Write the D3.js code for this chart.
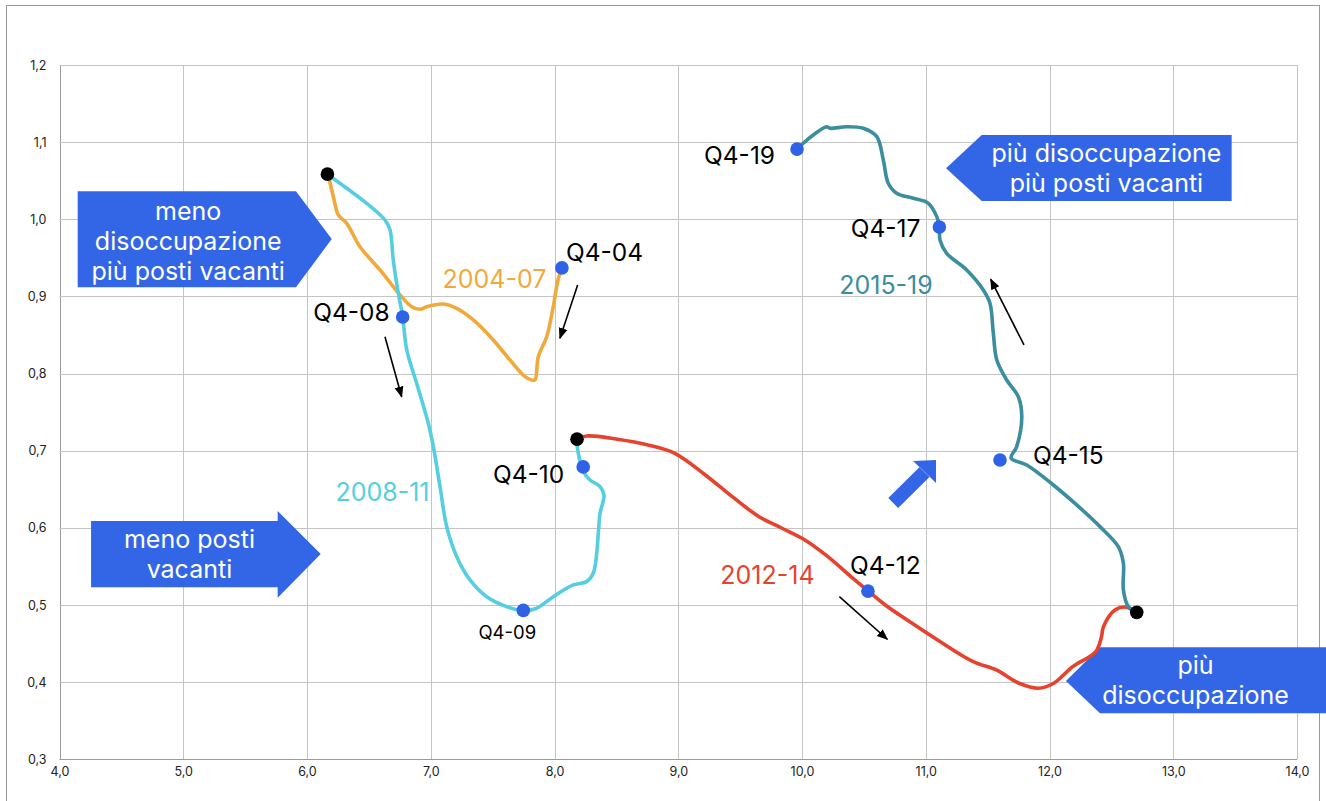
<!DOCTYPE html>
<html><head><meta charset="utf-8">
<script src="https://cdn.jsdelivr.net/npm/d3@7"></script>
<style>
html,body{margin:0;padding:0;background:#fff;}
svg{display:block;font-family:Inter,"Noto Sans",sans-serif;}
</style></head>
<body>
<svg id="chart" width="1326" height="801"></svg>
<script>
// ---------- DATA ----------
const xTicks = [4,5,6,7,8,9,10,11,12,13,14];
const yTicks = [0.3,0.4,0.5,0.6,0.7,0.8,0.9,1.0,1.1,1.2];

const series2004_07 = [
  [8.058,0.9365],[8.028,0.9213],[7.990,0.8867],[7.937,0.8478],[7.869,0.8219],[7.842,0.7917],
  [7.816,0.7917],[7.762,0.796],[7.640,0.8177],[7.505,0.8436],[7.344,0.8695],[7.210,0.8846],
  [7.101,0.8902],[6.967,0.8867],[6.913,0.8833],[6.846,0.8867],[6.752,0.9019],[6.590,0.9343],
  [6.428,0.9645],[6.321,0.9948],[6.253,1.0056],[6.213,1.0293],[6.172,1.0574]
];
const series2008_11 = [
  [6.172,1.0574],[6.321,1.0402],[6.482,1.0207],[6.630,0.9991],[6.671,0.9861],[6.697,0.9472],
  [6.738,0.9041],[6.773,0.8738],[6.806,0.8306],[6.886,0.7874],[6.980,0.7356],[7.021,0.7053],
  [7.075,0.6534],[7.129,0.6016],[7.210,0.5627],[7.317,0.5325],[7.452,0.5108],[7.614,0.4979],
  [7.748,0.4927],[7.856,0.4958],[7.990,0.5108],[8.152,0.526],[8.260,0.5303],[8.313,0.5411],
  [8.341,0.5671],[8.354,0.593],[8.368,0.6189],[8.400,0.6426],[8.368,0.6534],[8.287,0.6621],
  [8.233,0.6729],[8.192,0.6967],[8.179,0.714]
];
const series2012_14 = [
  [8.183,0.7149],[8.261,0.7191],[8.508,0.7149],[8.756,0.7075],[8.972,0.6967],[9.219,0.6686],
  [9.436,0.6404],[9.653,0.6145],[9.838,0.5995],[10.023,0.5843],[10.209,0.5627],[10.395,0.5368],
  [10.534,0.5183],[10.673,0.5001],[10.890,0.4763],[11.137,0.4504],[11.384,0.4266],[11.570,0.4158],
  [11.755,0.3986],[11.910,0.3921],[12.034,0.3986],[12.188,0.4201],[12.374,0.4396],[12.420,0.459],
  [12.436,0.4719],[12.529,0.4936],[12.622,0.4971],[12.699,0.4901]
];
const series2015_19 = [
  [12.705,0.4901],[12.637,0.4979],[12.597,0.5195],[12.597,0.5541],[12.556,0.5756],[12.408,0.6016],
  [12.220,0.6297],[12.031,0.6556],[11.816,0.6815],[11.690,0.6905],[11.735,0.7053],[11.776,0.7441],
  [11.748,0.77],[11.654,0.7917],[11.574,0.8176],[11.546,0.8522],[11.519,0.8911],[11.465,0.9084],
  [11.331,0.9343],[11.169,0.9559],[11.115,0.9732],[11.110,0.9896],[11.089,1.0034],[11.021,1.0207],
  [10.899,1.0272],[10.765,1.0337],[10.697,1.0467],[10.657,1.0769],[10.604,1.1071],[10.495,1.118],
  [10.361,1.12],[10.226,1.118],[10.200,1.12],[10.091,1.1093],[10.010,1.0985],[9.957,1.0898]
];

const seriesNames = ["2004-07","2008-11","2012-14","2015-19"];
const seriesData = [series2004_07, series2008_11, series2012_14, series2015_19];
const seriesColors = ["#F2A93B","#55CFE0","#E5432D","#3A8EA0"];

const quarterLabels = ["Q4-04","Q4-08","Q4-09","Q4-10","Q4-12","Q4-15","Q4-17","Q4-19"];
const quarterX = [8.060, 6.773, 7.748, 8.232, 10.533, 11.600, 11.110, 9.960];
const quarterY = [0.937, 0.8734, 0.4930, 0.679, 0.518, 0.688, 0.990, 1.091];

const breakX = [6.165, 8.182, 12.705];
const breakY = [1.0585, 0.7150, 0.4905];

const boxTexts = [
  ["meno","disoccupazione","più posti vacanti"],
  ["meno posti","vacanti"],
  ["più disoccupazione","più posti vacanti"],
  ["più","disoccupazione"]
];

// ---------- LAYOUT ----------
const W = 1326, H = 801;
const plot = {left:59.5, right:1297, top:65, bottom:759.3};
const x = d3.scaleLinear().domain([4,14]).range([plot.left, plot.right]);
const y = d3.scaleLinear().domain([0.3,1.2]).range([plot.bottom, plot.top]);
const fmt = v => d3.format(".1f")(v).replace(".", ",");

const svg = d3.select("#chart");
svg.append("rect").attr("width",W).attr("height",H).attr("fill","#fff");
// outer frame
svg.append("rect").attr("x",6.5).attr("y",5.5).attr("width",1313).attr("height",820)
  .attr("fill","none").attr("stroke","#9a9a9a").attr("stroke-width",1);

// grid
const g = svg.append("g");
g.selectAll(".vg").data(xTicks).join("line")
  .attr("x1",d=>Math.round(x(d))+0.5).attr("x2",d=>Math.round(x(d))+0.5)
  .attr("y1",plot.top).attr("y2",plot.bottom)
  .attr("stroke",d=>d===4?"#9a9a9a":"#c4c4c4").attr("stroke-width",1);
g.selectAll(".hg").data(yTicks).join("line")
  .attr("y1",d=>Math.round(y(d))+0.5).attr("y2",d=>Math.round(y(d))+0.5)
  .attr("x1",plot.left).attr("x2",plot.right)
  .attr("stroke",d=>Math.abs(d-0.3)<1e-6?"#9a9a9a":"#c4c4c4").attr("stroke-width",1);

// axes with d3 axis generators (labels only)
const xAxis = d3.axisBottom(x).tickValues(xTicks).tickFormat(fmt).tickSize(0).tickPadding(8);
const yAxis = d3.axisLeft(y).tickValues(yTicks).tickFormat(fmt).tickSize(0).tickPadding(13);
const xa = svg.append("g").attr("transform",`translate(0,${plot.bottom})`).call(xAxis);
const ya = svg.append("g").attr("transform",`translate(${plot.left},0)`).call(yAxis);
[xa,ya].forEach(a=>{
  a.select(".domain").remove();
  a.selectAll("text").attr("font-family","Inter,sans-serif").attr("font-size",12.5).attr("fill","#222");
});

// blue annotation boxes (coordinates via scales)
const blue = "#3366E6";
function poly(pts){ return "M"+pts.map(p=>p.join(",")).join("L")+"Z"; }
const boxes = [
  {shape:[[x(4.147),y(1.0363)],[x(5.911),y(1.0363)],[x(6.200),y(0.9745)],[x(5.911),y(0.9119)],[x(4.147),y(0.9119)]],
   cx:x(5.04), lines:[y(1.0101),y(0.9725),y(0.9335)]},
  {shape:[[x(4.255),y(0.609)],[x(5.763),y(0.609)],[x(5.763),y(0.6219)],[x(6.111),y(0.5662)],[x(5.763),y(0.5095)],[x(5.763),y(0.523)],[x(4.255),y(0.523)]],
   cx:x(5.05), lines:[y(0.5857),y(0.5467)]},
  {shape:[[x(11.164),y(1.0661)],[x(11.452),y(1.1093)],[x(13.472),y(1.1093)],[x(13.472),y(1.0237)],[x(11.452),y(1.0237)]],
   cx:x(12.46), lines:[y(1.0855),y(1.0465)]},
  {shape:[[x(12.133),y(0.4016)],[x(12.408),y(0.4452)],[x(14.4),y(0.4452)],[x(14.4),y(0.3597)],[x(12.408),y(0.3597)]],
   cx:x(13.18), lines:[y(0.4218),y(0.3828)]}
];
boxes.forEach((b,i)=>{
  svg.append("path").attr("d",poly(b.shape)).attr("fill",blue);
  boxTexts[i].forEach((t,j)=>{
    svg.append("text").attr("x",b.cx).attr("y",b.lines[j]).attr("dy","0.36em")
      .attr("text-anchor","middle").attr("fill","#fff").attr("font-size",25).text(t);
  });
});

// diagonal blue arrow
(function(){
  const tip=[x(11.083),y(0.688)], b1=[x(10.898),y(0.6867)], b2=[x(11.083),y(0.6582)];
  const bm=[(b1[0]+b2[0])/2,(b1[1]+b2[1])/2];
  const end=[x(10.737),y(0.6323)];
  const dx=bm[0]-end[0], dy=bm[1]-end[1], L=Math.hypot(dx,dy);
  const nx=-dy/L*7, ny=dx/L*7;
  svg.append("path").attr("fill",blue).attr("d",poly([
    [end[0]+nx,end[1]+ny],[bm[0]+nx,bm[1]+ny],b1,tip,b2,[bm[0]-nx,bm[1]-ny],[end[0]-nx,end[1]-ny]
  ]));
})();

// series lines
const line = d3.line().x(d=>x(d[0])).y(d=>y(d[1])).curve(d3.curveCatmullRom.alpha(0.5));
seriesData.forEach((s,i)=>{
  svg.append("path").datum(s).attr("d",line).attr("fill","none")
    .attr("stroke",seriesColors[i]).attr("stroke-width",3.6).attr("stroke-linejoin","round").attr("stroke-linecap","round");
});

// thin black direction arrows
svg.append("defs").append("marker").attr("id","ah").attr("viewBox","0 0 10 10")
  .attr("refX",9).attr("refY",5).attr("markerWidth",7).attr("markerHeight",7).attr("orient","auto")
  .append("path").attr("d","M0,1L10,5L0,9Z").attr("fill","#000");
const dirArrows = [
  [[8.187,0.9148],[8.044,0.8458]],
  [[6.630,0.8478],[6.765,0.7700]],
  [[10.302,0.5108],[10.689,0.4556]],
  [[11.794,0.8371],[11.525,0.9222]]
];
svg.selectAll(".da").data(dirArrows).join("line")
  .attr("x1",d=>x(d[0][0])).attr("y1",d=>y(d[0][1]))
  .attr("x2",d=>x(d[1][0])).attr("y2",d=>y(d[1][1]))
  .attr("stroke","#000").attr("stroke-width",1.6).attr("marker-end","url(#ah)");

// quarter dots
svg.selectAll(".qd").data(quarterLabels).join("circle")
  .attr("cx",(d,i)=>x(quarterX[i])).attr("cy",(d,i)=>y(quarterY[i])).attr("r",6.8).attr("fill","#2F62E6");
// black break dots
svg.selectAll(".bd").data(breakX).join("circle")
  .attr("cx",(d,i)=>x(d)).attr("cy",(d,i)=>y(breakY[i])).attr("r",6.8).attr("fill","#000");

// quarter labels (offsets are styling)
const qLab = [
  {dx:4, dy:-16, anchor:"start", size:24.5},
  {dx:-13, dy:-5, anchor:"end", size:24.5},
  {dx:-16, dy:22, anchor:"middle", size:18.5},
  {dx:-19, dy:7, anchor:"end", size:24.5},
  {dx:-18, dy:-26, anchor:"start", size:24.5},
  {dx:33, dy:-5, anchor:"start", size:24.5},
  {dx:-19, dy:1, anchor:"end", size:24.5},
  {dx:-22, dy:6, anchor:"end", size:24.5}
];
svg.selectAll(".ql").data(quarterLabels).join("text")
  .attr("x",(d,i)=>x(quarterX[i])+qLab[i].dx).attr("y",(d,i)=>y(quarterY[i])+qLab[i].dy)
  .attr("dy","0.36em").attr("text-anchor",(d,i)=>qLab[i].anchor)
  .attr("font-size",(d,i)=>qLab[i].size).attr("fill","#000").text(d=>d);

// series name labels
const nameX = [7.515, 6.610, 9.721, 10.679];
const nameY = [0.9226, 0.6465, 0.5390, 0.9148];
svg.selectAll(".sn").data(seriesNames).join("text")
  .attr("x",(d,i)=>x(nameX[i])).attr("y",(d,i)=>y(nameY[i])).attr("dy","0.36em")
  .attr("text-anchor","middle").attr("font-size",25).attr("fill",(d,i)=>seriesColors[i]).text(d=>d);
</script>
</body></html>
